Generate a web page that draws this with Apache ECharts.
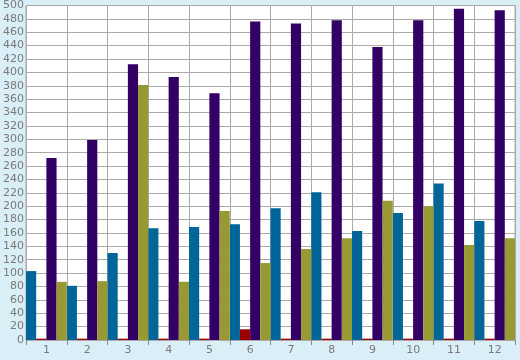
<!DOCTYPE html>
<html><head><meta charset="utf-8">
<script src="https://cdn.jsdelivr.net/npm/echarts@6/dist/echarts.min.js"></script>
<style>html,body{margin:0;padding:0;background:#d9eef6}#c{width:520px;height:360px}</style>
</head><body><div id="c"></div>
<script>
var categories = ['1','2','3','4','5','6','7','8','9','10','11','12'];
var seriesBlue = [103, 81, 130, 167, 169, 173, 197, 221, 163, 190, 234, 178];
var seriesRed = [2, 2, 2, 2, 2, 16, 2, 2, 2, 2, 2, 2];
var seriesPurple = [272, 299, 412, 393, 369, 476, 473, 478, 438, 478, 495, 493];
var seriesOlive = [87, 88, 381, 87, 193, 115, 136, 152, 208, 200, 142, 152];
var yTicks = {min: 0, max: 500, step: 20};

var chart = echarts.init(document.getElementById('c'), null, {renderer: 'canvas'});
var labelStyle = {color: '#7a7a7a', fontFamily: 'DejaVu Sans', fontSize: 11};
function bar(data, color) {
  return {type: 'bar', data: data, barGap: '0%', barCategoryGap: '0%',
          itemStyle: {color: color}, animation: false, z: 5};
}
chart.setOption({
  backgroundColor: '#d9eef6',
  animation: false,
  grid: {left: 26, right: 5, top: 5, bottom: 20, show: true, backgroundColor: '#ffffff',
         borderColor: '#aaaaaa', borderWidth: 1},
  xAxis: {type: 'category', data: categories, boundaryGap: true,
          axisLine: {show: false},
          axisTick: {show: true, length: 5, lineStyle: {color: '#888888'}},
          splitLine: {show: true, lineStyle: {color: '#aaaaaa', width: 1}},
          axisLabel: Object.assign({margin: 5}, labelStyle)},
  yAxis: {type: 'value', min: yTicks.min, max: yTicks.max, interval: yTicks.step,
          axisLine: {show: true, lineStyle: {color: '#aaaaaa'}},
          axisTick: {show: false},
          splitLine: {show: true, lineStyle: {color: '#aaaaaa', width: 1}},
          axisLabel: Object.assign({margin: 2}, labelStyle)},
  series: [
    bar(seriesBlue, '#006699'),
    bar(seriesRed, '#990000'),
    bar(seriesPurple, '#330066'),
    bar(seriesOlive, '#999933')
  ]
});
</script></body></html>
